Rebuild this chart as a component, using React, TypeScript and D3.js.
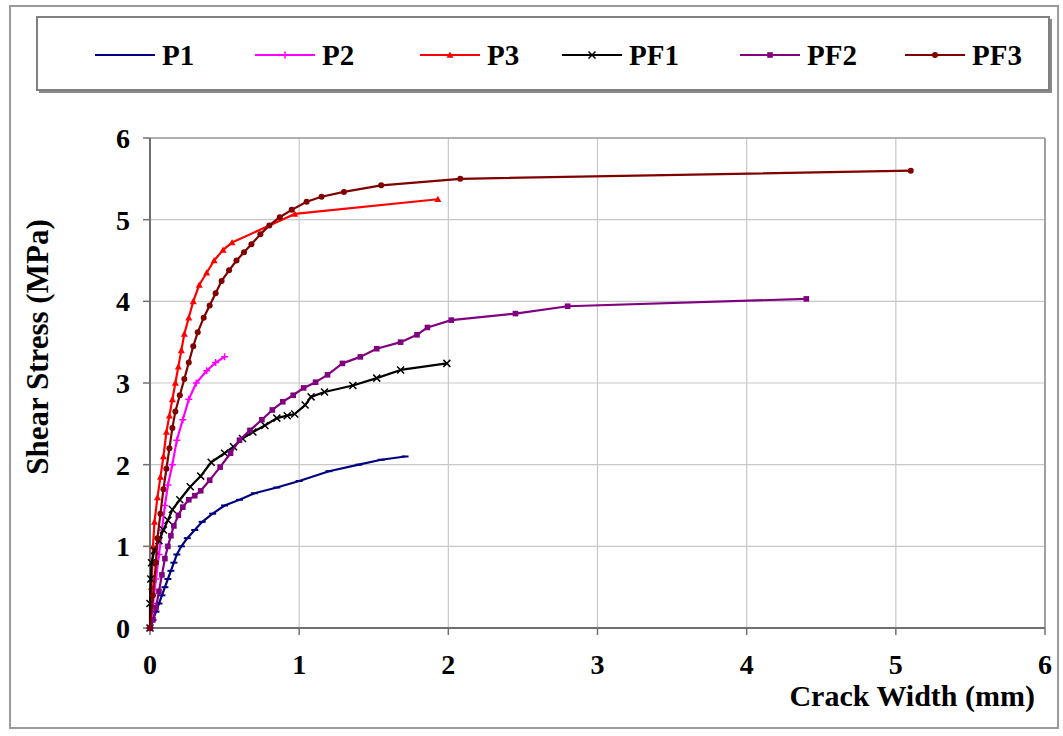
import React from 'react';
import * as d3 from 'd3';

// crack width (mm) / shear stress (MPa)
const p1X = [0, 0.02, 0.04, 0.06, 0.08, 0.1, 0.12, 0.14, 0.16, 0.18, 0.21, 0.25, 0.3, 0.35, 0.42, 0.5, 0.6, 0.7, 0.85, 1.0, 1.2, 1.4, 1.55, 1.71];
const p1Y = [0, 0.1, 0.2, 0.3, 0.4, 0.5, 0.6, 0.7, 0.8, 0.9, 1.0, 1.1, 1.2, 1.3, 1.4, 1.5, 1.57, 1.65, 1.72, 1.8, 1.92, 2.0, 2.06, 2.1];

const p2X = [0, 0.02, 0.04, 0.06, 0.08, 0.1, 0.12, 0.15, 0.18, 0.22, 0.26, 0.31, 0.38, 0.44, 0.5];
const p2Y = [0, 0.3, 0.6, 0.9, 1.2, 1.5, 1.75, 2.0, 2.3, 2.55, 2.8, 3.0, 3.15, 3.25, 3.32];

const p3X = [0, 0.01, 0.02, 0.03, 0.05, 0.07, 0.09, 0.11, 0.13, 0.15, 0.17, 0.19, 0.21, 0.23, 0.26, 0.29, 0.33, 0.38, 0.43, 0.49, 0.55, 0.97, 1.93];
const p3Y = [0, 0.5, 1.0, 1.3, 1.6, 1.85, 2.1, 2.4, 2.6, 2.8, 3.0, 3.2, 3.4, 3.6, 3.8, 4.0, 4.2, 4.35, 4.5, 4.63, 4.72, 5.07, 5.25];

const pf1X = [0, 0, 0.005, 0.01, 0.03, 0.06, 0.09, 0.12, 0.15, 0.2, 0.27, 0.34, 0.41, 0.5, 0.56, 0.62, 0.69, 0.77, 0.85, 0.92, 0.97, 1.04, 1.08, 1.17, 1.36, 1.52, 1.68, 1.99];
const pf1Y = [0, 0.3, 0.6, 0.8, 0.95, 1.07, 1.2, 1.32, 1.45, 1.57, 1.73, 1.86, 2.03, 2.14, 2.22, 2.32, 2.4, 2.48, 2.57, 2.6, 2.62, 2.73, 2.83, 2.89, 2.97, 3.06, 3.16, 3.24];

const pf2X = [0, 0.02, 0.04, 0.06, 0.08, 0.1, 0.12, 0.14, 0.16, 0.19, 0.22, 0.26, 0.3, 0.34, 0.4, 0.47, 0.54, 0.6, 0.67, 0.75, 0.82, 0.89, 0.96, 1.03, 1.11, 1.19, 1.29, 1.41, 1.52, 1.68, 1.79, 1.86, 2.02, 2.45, 2.8, 4.4];
const pf2Y = [0, 0.1, 0.25, 0.45, 0.65, 0.85, 1.0, 1.13, 1.25, 1.38, 1.48, 1.57, 1.62, 1.68, 1.81, 1.97, 2.14, 2.3, 2.42, 2.55, 2.67, 2.77, 2.85, 2.94, 3.01, 3.1, 3.24, 3.32, 3.42, 3.5, 3.59, 3.68, 3.77, 3.85, 3.94, 4.03];

const pf3X = [0, 0.02, 0.04, 0.05, 0.07, 0.09, 0.11, 0.13, 0.15, 0.17, 0.2, 0.23, 0.26, 0.29, 0.32, 0.36, 0.4, 0.44, 0.48, 0.53, 0.58, 0.63, 0.68, 0.74, 0.8, 0.87, 0.95, 1.05, 1.15, 1.3, 1.55, 2.08, 5.1];
const pf3Y = [0, 0.4, 0.8, 1.1, 1.4, 1.7, 1.95, 2.2, 2.45, 2.65, 2.85, 3.05, 3.25, 3.45, 3.62, 3.8, 3.95, 4.1, 4.25, 4.38, 4.5, 4.6, 4.7, 4.82, 4.93, 5.03, 5.12, 5.22, 5.28, 5.34, 5.42, 5.5, 5.6];

const xTicks = [0, 1, 2, 3, 4, 5, 6];
const yTicks = [0, 1, 2, 3, 4, 5, 6];

type Marker = 'dash' | 'plus' | 'triangle' | 'x' | 'square' | 'circle';

const series: { name: string; xs: number[]; ys: number[]; color: string; marker: Marker }[] = [
  { name: 'P1', xs: p1X, ys: p1Y, color: '#000080', marker: 'dash' },
  { name: 'P2', xs: p2X, ys: p2Y, color: '#ff00ff', marker: 'plus' },
  { name: 'P3', xs: p3X, ys: p3Y, color: '#ff0000', marker: 'triangle' },
  { name: 'PF1', xs: pf1X, ys: pf1Y, color: '#000000', marker: 'x' },
  { name: 'PF2', xs: pf2X, ys: pf2Y, color: '#800080', marker: 'square' },
  { name: 'PF3', xs: pf3X, ys: pf3Y, color: '#800000', marker: 'circle' },
];

const font = '"Liberation Serif", "Times New Roman", serif';

function drawMarker(kind: Marker, x: number, y: number, color: string, key: string | number) {
  const s = 3.5;
  switch (kind) {
    case 'dash':
      return <line key={key} x1={x - s} x2={x + s} y1={y} y2={y} stroke={color} strokeWidth={2} />;
    case 'plus':
      return (
        <path key={key} d={`M${x - s},${y}H${x + s}M${x},${y - s}V${y + s}`} stroke={color} strokeWidth={1.5} fill="none" />
      );
    case 'triangle':
      return <path key={key} d={`M${x},${y - s}L${x + s},${y + s * 0.8}L${x - s},${y + s * 0.8}Z`} fill={color} />;
    case 'x':
      return (
        <path key={key} d={`M${x - s},${y - s}L${x + s},${y + s}M${x + s},${y - s}L${x - s},${y + s}`} stroke={color} strokeWidth={1.5} fill="none" />
      );
    case 'square':
      return <rect key={key} x={x - 2.8} y={y - 2.8} width={5.6} height={5.6} fill={color} />;
    default:
      return <circle key={key} cx={x} cy={y} r={3} fill={color} />;
  }
}

export default function App() {
  const width = 1063;
  const height = 736;
  const plot = { left: 150, right: 1045, top: 138, bottom: 628 };

  const x = d3.scaleLinear().domain([0, 6]).range([plot.left, plot.right]);
  const y = d3.scaleLinear().domain([0, 6]).range([plot.bottom, plot.top]);

  const line = d3
    .line<[number, number]>()
    .x(d => x(d[0]))
    .y(d => y(d[1]));

  const legendX = [95, 255, 420, 562, 740, 905];
  const legendY = 55;

  return (
    <div style={{ position: 'absolute', left: 0, top: 0 }}>
      <svg width={width} height={height} style={{ display: 'block', background: '#fff', fontFamily: font }}>
        {/* outer chart border */}
        <rect x={10} y={6} width={1048} height={722} fill="#fff" stroke="#9a9a9a" strokeWidth={2} />

        {/* legend */}
        <rect x={39} y={19} width={1013} height={74} fill="#8a8a8a" />
        <rect x={37} y={17} width={1012} height={73} fill="#fff" stroke="#808080" strokeWidth={2} />
        {series.map((s, i) => (
          <g key={s.name}>
            <line x1={legendX[i]} x2={legendX[i] + 60} y1={legendY} y2={legendY} stroke={s.color} strokeWidth={2} />
            {drawMarker(s.marker, legendX[i] + 30, legendY, s.color, 'm')}
            <text x={legendX[i] + 67} y={legendY + 10} fontSize={29} fontWeight="bold" fill="#000">
              {s.name}
            </text>
          </g>
        ))}

        {/* gridlines */}
        {xTicks.slice(1).map(t => (
          <line key={'gx' + t} x1={x(t)} x2={x(t)} y1={plot.top} y2={plot.bottom} stroke="#c8c8c8" strokeWidth={1.2} />
        ))}
        {yTicks.slice(1).map(t => (
          <line key={'gy' + t} x1={plot.left} x2={plot.right} y1={y(t)} y2={y(t)} stroke="#c8c8c8" strokeWidth={1.2} />
        ))}
        <line x1={plot.right} x2={plot.right} y1={plot.top} y2={plot.bottom} stroke="#a0a0a0" strokeWidth={2} />
        <line x1={plot.left} x2={plot.right} y1={plot.top} y2={plot.top} stroke="#a0a0a0" strokeWidth={1.5} />

        {/* axes */}
        <line x1={plot.left} x2={plot.left} y1={plot.top} y2={plot.bottom} stroke="#707070" strokeWidth={2} />
        <line x1={plot.left} x2={plot.right} y1={plot.bottom} y2={plot.bottom} stroke="#707070" strokeWidth={2} />
        {xTicks.map(t => (
          <g key={'xt' + t}>
            <line x1={x(t)} x2={x(t)} y1={plot.bottom} y2={plot.bottom + 7} stroke="#707070" strokeWidth={1.5} />
            <text x={x(t)} y={plot.bottom + 46} textAnchor="middle" fontSize={28} fontWeight="bold">
              {t}
            </text>
          </g>
        ))}
        {yTicks.map(t => (
          <g key={'yt' + t}>
            <line x1={plot.left - 7} x2={plot.left} y1={y(t)} y2={y(t)} stroke="#707070" strokeWidth={1.5} />
            <text x={plot.left - 20} y={y(t) + 10} textAnchor="end" fontSize={28} fontWeight="bold">
              {t}
            </text>
          </g>
        ))}

        <text x={1035} y={706} textAnchor="end" fontSize={30} fontWeight="bold">
          Crack Width (mm)
        </text>
        <text transform="translate(48,347) rotate(-90)" textAnchor="middle" fontSize={31} fontWeight="bold">
          Shear Stress (MPa)
        </text>

        {/* series */}
        {series.map(s => {
          const pts = s.xs.map((v, i) => [v, s.ys[i]] as [number, number]);
          return (
            <g key={s.name}>
              <path d={line(pts) || ''} fill="none" stroke={s.color} strokeWidth={2.2} strokeLinejoin="round" />
              {pts.map((p, i) => drawMarker(s.marker, x(p[0]), y(p[1]), s.color, i))}
            </g>
          );
        })}
      </svg>
    </div>
  );
}
